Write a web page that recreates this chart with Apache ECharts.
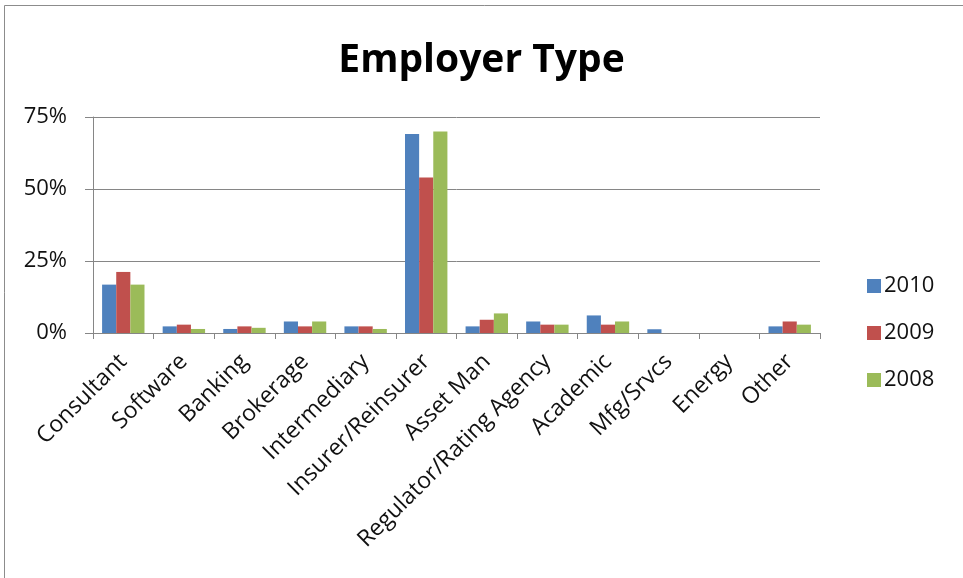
<!DOCTYPE html>
<html>
<head>
<meta charset="utf-8">
<title>Employer Type</title>
<script src="https://cdn.jsdelivr.net/npm/echarts@6/dist/echarts.min.js"></script>
<style>
  html, body { margin: 0; padding: 0; background: #ffffff; }
  #chart { width: 963px; height: 578px; }
</style>
</head>
<body>
<div id="chart"></div>
<script>
// Employer type breakdown by survey year (percent of respondents)
const categories = ['Consultant', 'Software', 'Banking', 'Brokerage', 'Intermediary',
  'Insurer/Reinsurer', 'Asset Man', 'Regulator/Rating Agency', 'Academic',
  'Mfg/Srvcs', 'Energy', 'Other'];
const years = ['2010', '2009', '2008'];
const values2010 = [16.8, 2.3, 1.4, 4.0, 2.3, 69.1, 2.3, 4.0, 6.1, 1.3, 0, 2.3];
const values2009 = [21.2, 2.9, 2.3, 2.3, 2.3, 54.0, 4.6, 2.9, 2.9, 0, 0, 4.0];
const values2008 = [16.8, 1.4, 1.8, 4.0, 1.4, 70.0, 6.8, 2.9, 4.0, 0, 0, 2.9];
const yTicks = [0, 25, 50, 75];

const palette = ['#4F81BD', '#C0504D', '#9BBB59'];
const seriesValues = [values2010, values2009, values2008];
const font = '"Open Sans", "DejaVu Sans", sans-serif';

const chart = echarts.init(document.getElementById('chart'), null, { renderer: 'canvas' });

chart.setOption({
  animation: false,
  backgroundColor: '#ffffff',
  color: palette,
  textStyle: { fontFamily: font },
  title: {
    text: 'Employer Type',
    left: 'center',
    top: 36,
    textStyle: { fontFamily: font, fontWeight: 'bold', fontSize: 39, color: '#000000' }
  },
  legend: {
    data: years,
    orient: 'vertical',
    left: 862,
    top: 270,
    itemWidth: 14,
    itemHeight: 14,
    itemGap: 25,
    icon: 'rect',
    textStyle: { fontFamily: font, fontSize: 22, color: '#111111', padding: [0, 0, 0, -2] }
  },
  grid: {
    left: 93,
    right: 143,
    top: 117,
    bottom: 245,
    containLabel: false
  },
  xAxis: {
    type: 'category',
    data: categories,
    axisLine: { lineStyle: { color: '#868686', width: 1 } },
    axisTick: { show: true, length: 6, alignWithLabel: false, lineStyle: { color: '#868686' } },
    axisLabel: {
      interval: 0,
      rotate: 45,
      margin: 25,
      fontFamily: font,
      fontSize: 23,
      color: '#111111'
    }
  },
  yAxis: {
    type: 'value',
    min: yTicks[0],
    max: yTicks[yTicks.length - 1],
    interval: 25,
    axisLine: { show: true, lineStyle: { color: '#868686', width: 1 } },
    axisTick: { show: true, length: 8, lineStyle: { color: '#868686' } },
    splitLine: { show: true, lineStyle: { color: '#868686', width: 1 } },
    axisLabel: {
      formatter: '{value}%',
      margin: 26,
      fontFamily: font,
      fontSize: 22,
      color: '#111111'
    }
  },
  series: years.map((y, i) => ({
    name: y,
    type: 'bar',
    data: seriesValues[i],
    barGap: '0%',
    barCategoryGap: '30%',
    itemStyle: { color: palette[i] }
  })),
  graphic: [{
    type: 'rect',
    silent: true,
    z: -1,
    shape: { x: 4.5, y: 5.5, width: 1200, height: 1200 },
    style: { fill: null, stroke: '#8c8c8c', lineWidth: 1 }
  }]
});
</script>
</body>
</html>
